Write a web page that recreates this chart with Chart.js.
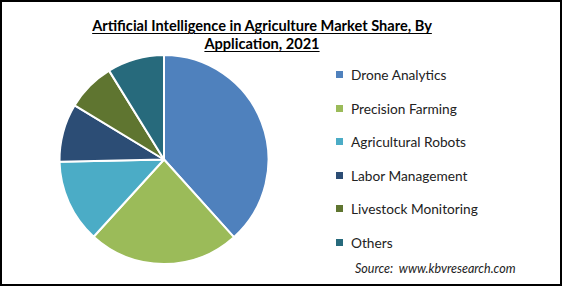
<!DOCTYPE html>
<html>
<head>
<meta charset="utf-8">
<script src="https://cdn.jsdelivr.net/npm/chart.js@4.4.0/dist/chart.umd.min.js"></script>
<style>
    body { margin: 0; background: #fff; }
    #marco {
        position: relative; width: 562px; height: 286px; box-sizing: border-box;
        border: 2px solid #000; background: #fff; overflow: hidden;
        font-family: Lato, 'Open Sans', sans-serif;
    }
    #titulo {
        position: absolute; left: -2px; width: 524px; top: 15px; text-align: center;
        font-weight: bold; font-size: 14.6px; line-height: 18px; color: #000;
        text-decoration: underline; text-underline-offset: 2px;
    }
    #caja { position: absolute; left: 54.5px; top: 52px; width: 214px; height: 211px; }
    #leyenda { position: absolute; left: 334px; top: 56px; margin: 0; padding: 0; list-style: none; }
    #leyenda li { height: 33.5px; display: flex; align-items: center; font-size: 13.7px; color: #222; }
    #leyenda span.caja { width: 7px; height: 7px; margin-right: 8px; display: inline-block; }
    #fuente {
        position: absolute; left: 353px; top: 259px; font-size: 12.5px; font-style: italic; color: #222;
    }
</style>
</head>
<body>
<div id="marco">
    <div id="titulo">Artificial Intelligence in Agriculture Market Share, By<br>Application, 2021</div>
    <div id="caja"><canvas id="chartAplicacion"></canvas></div>
    <ul id="leyenda"></ul>
    <div id="fuente">Source:&nbsp; www.kbvresearch.com</div>
</div>
<script>
const ctxAplicacion = document.getElementById('chartAplicacion');

const categorias = ['Drone Analytics', 'Precision Farming', 'Agricultural Robots',
    'Labor Management', 'Livestock Monitoring', 'Others'];
const cuota = [38.3, 23.4, 12.9, 9.0, 7.5, 8.8];
const colores = ['#4f81bd', '#9bbb59', '#4bacc6', '#2c4d75', '#5f7530', '#276a7c'];

// leyenda en html, generada con las etiquetas del propio chart
const leyendaHtml = {
    id: 'leyendaHtml',
    afterUpdate(chart) {
        const ul = document.getElementById('leyenda');
        ul.innerHTML = '';
        const items = chart.options.plugins.legend.labels.generateLabels(chart);
        items.forEach(item => {
            const li = document.createElement('li');
            const caja = document.createElement('span');
            caja.className = 'caja';
            caja.style.background = item.fillStyle;
            li.appendChild(caja);
            li.appendChild(document.createTextNode(item.text));
            ul.appendChild(li);
        });
    }
};

new Chart(ctxAplicacion, {
    type: 'pie',
    data: {
        labels: categorias,
        datasets: [{
            data: cuota,
            backgroundColor: colores,
            borderColor: '#fff',
            borderWidth: 2
        }]
    },
    options: {
        responsive: true,
        maintainAspectRatio: false,
        animation: false,
        layout: { padding: 0 },
        plugins: {
            legend: { display: false },
            tooltip: { enabled: false }
        }
    },
    plugins: [leyendaHtml]
});
</script>
</body>
</html>
